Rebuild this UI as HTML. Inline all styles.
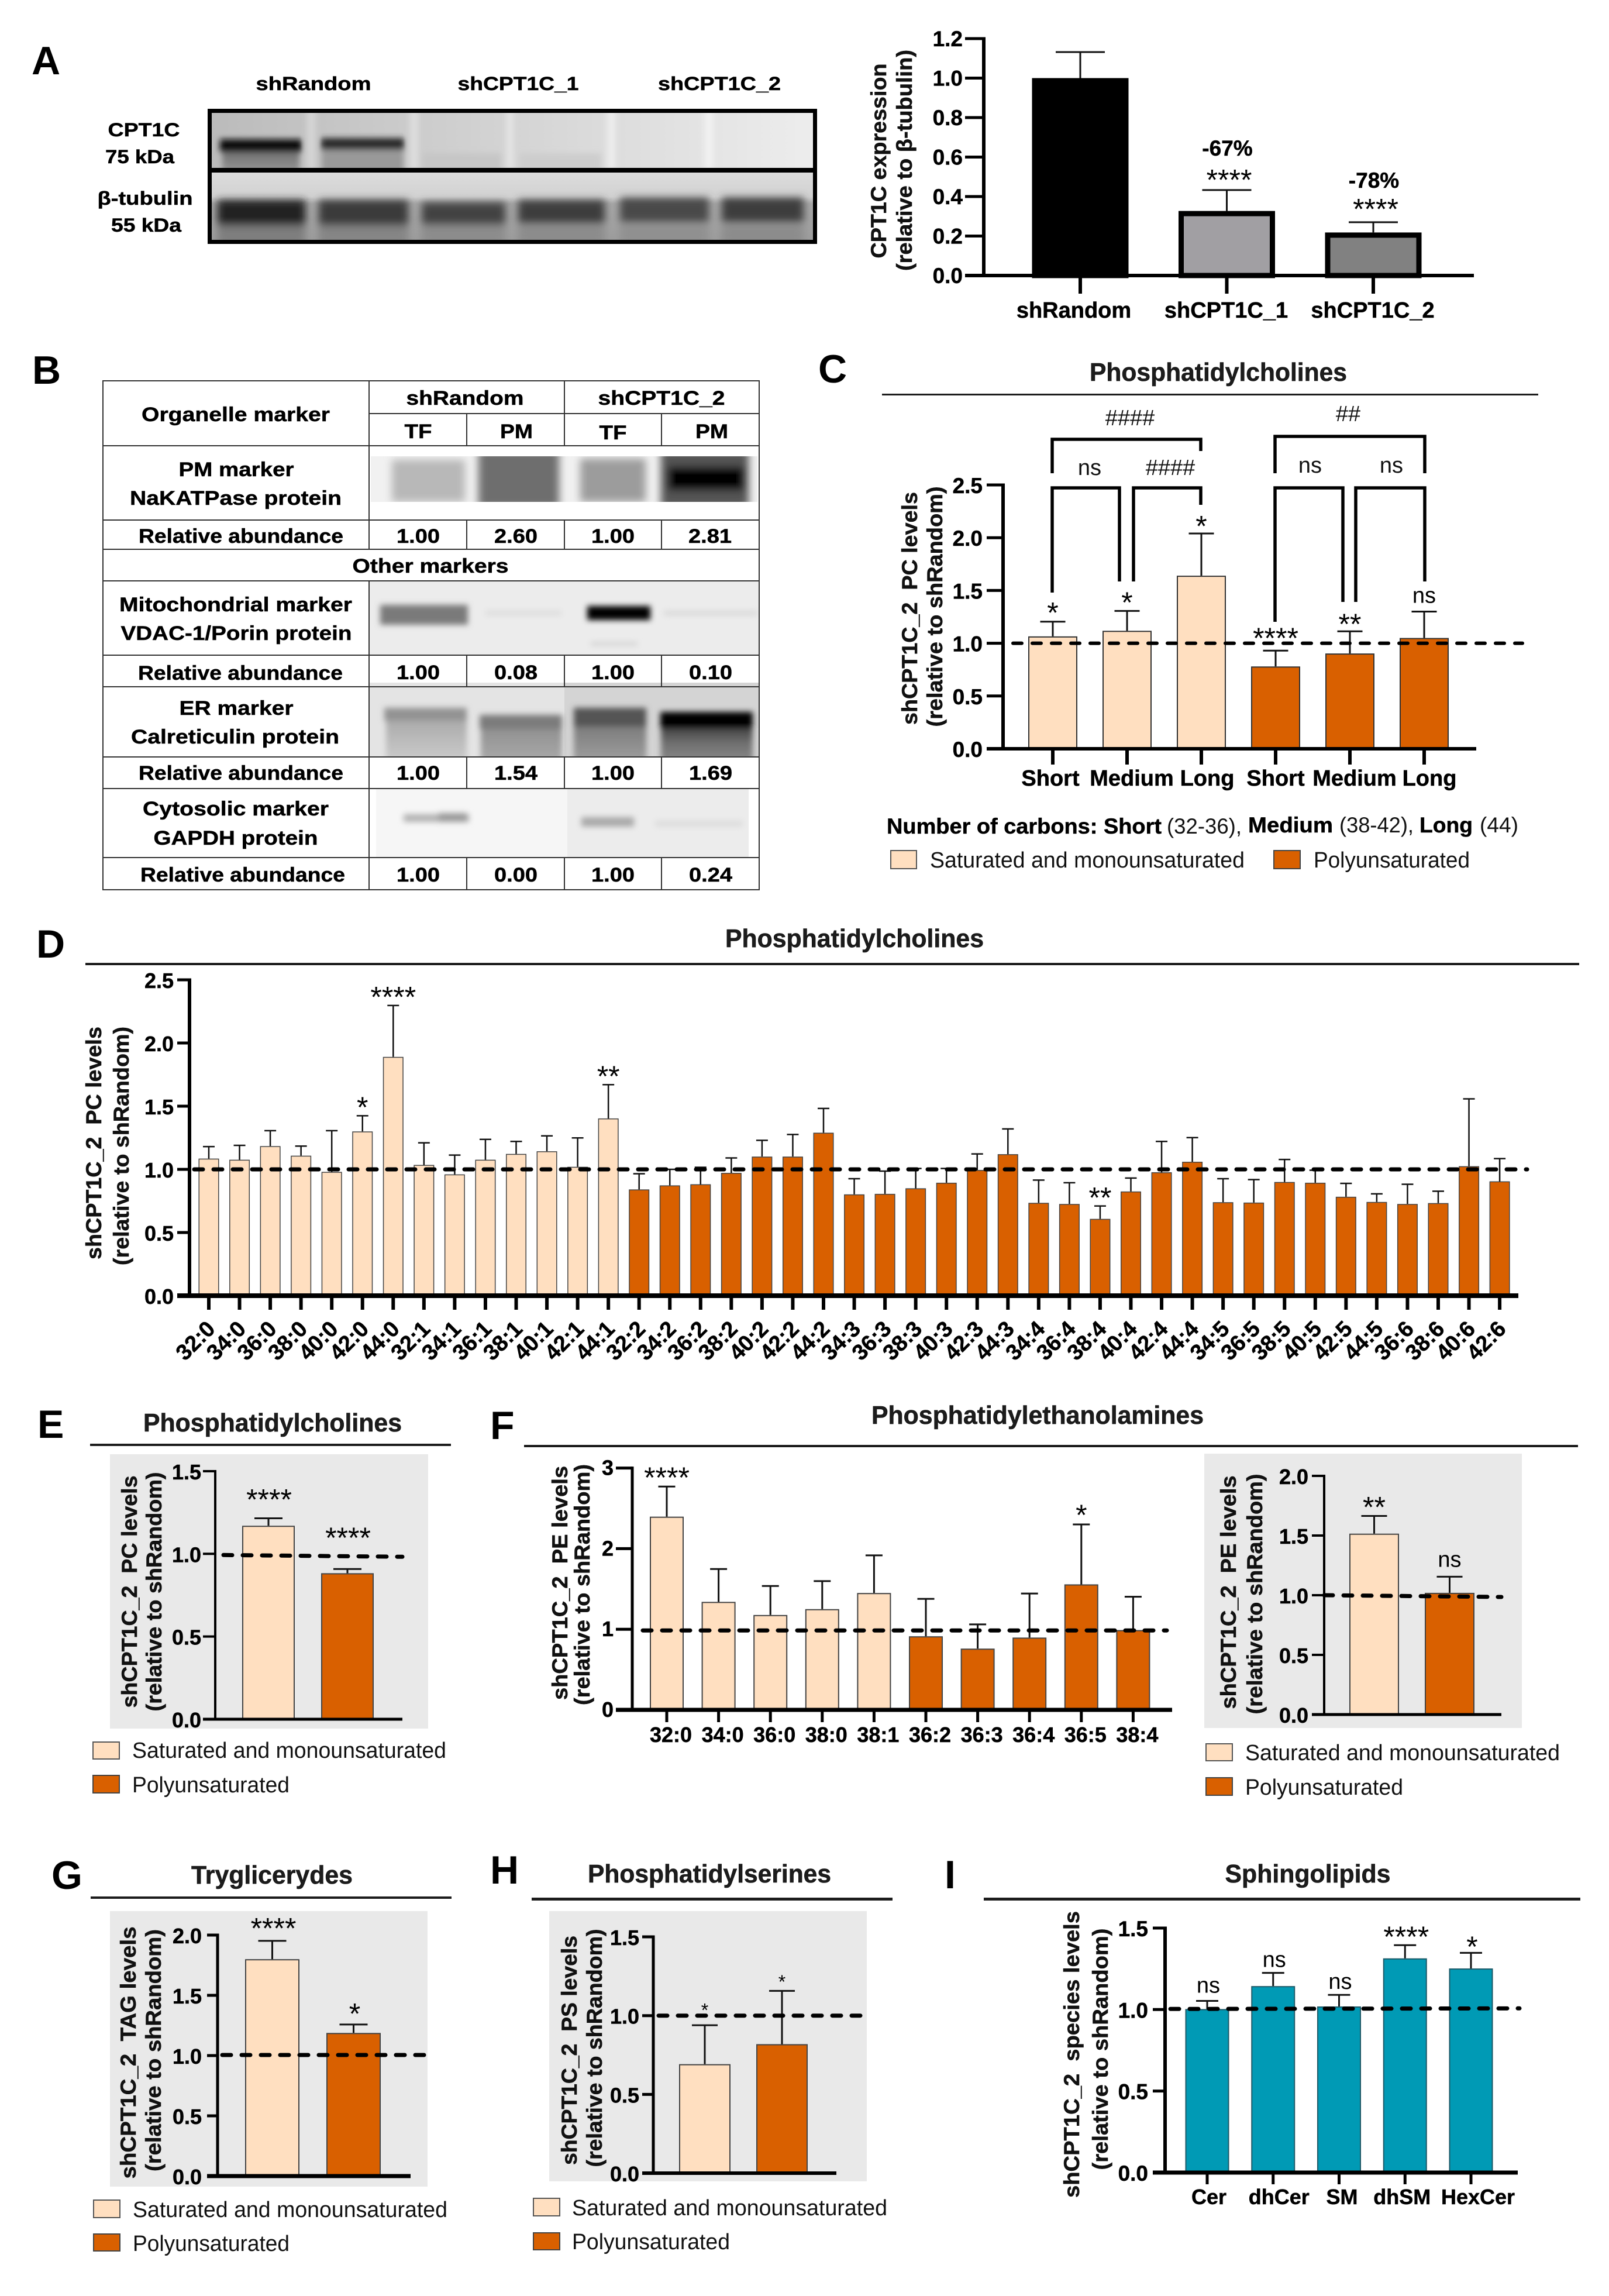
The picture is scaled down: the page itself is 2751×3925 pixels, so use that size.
<!DOCTYPE html>
<html lang="en">
<head>
<meta charset="utf-8">
<title>CPT1C lipidomics figure</title>
<style>
html,body{margin:0;padding:0;background:#fff}
svg{display:block;font-family:"Liberation Sans",sans-serif}
svg text[font-weight="700"],.b,.t,.Y,.T{stroke:#000;stroke-width:.5px}
.b{font-weight:700;fill:#000}
.r{font-weight:400;fill:#111}
.m{text-anchor:middle}
.L{font-weight:700;font-size:68px;fill:#000}
.T{font-weight:700;font-size:44px;fill:#1c1c1c;text-anchor:middle}
.Y{font-weight:700;font-size:37px;fill:#111;text-anchor:middle}
.t{font-weight:700;font-size:34px;fill:#000;text-anchor:middle}
.g{font-weight:400;font-size:38px;fill:#111}
.sw1{fill:#FFDFC0;stroke:#555;stroke-width:2}
.sw2{fill:#D96000;stroke:#444;stroke-width:2}
.rule{fill:#1c1c1c}
.bk{fill:none;stroke:#000;stroke-width:5.5}
.tl{stroke:#333;stroke-width:2}
</style>
</head>
<body>
<svg xmlns="http://www.w3.org/2000/svg" width="2751" height="3925" viewBox="0 0 2751 3925">
<defs>
<filter id="b3" x="-30%" y="-30%" width="160%" height="160%"><feGaussianBlur stdDeviation="3"/></filter>
<filter id="b5" x="-30%" y="-60%" width="160%" height="220%"><feGaussianBlur stdDeviation="5"/></filter>
<filter id="b7" x="-30%" y="-60%" width="160%" height="220%"><feGaussianBlur stdDeviation="7"/></filter>
<filter id="b10" x="-30%" y="-60%" width="160%" height="220%"><feGaussianBlur stdDeviation="10"/></filter>
<linearGradient id="aTop" x1="0" x2="1" y1="0" y2="0"><stop offset="0" stop-color="#bbb"/><stop offset=".4" stop-color="#cfcfcf"/><stop offset="1" stop-color="#ededed"/></linearGradient>
<linearGradient id="aBot" x1="0" x2="0" y1="0" y2="1"><stop offset="0" stop-color="#dcdcdc"/><stop offset=".35" stop-color="#d2d2d2"/><stop offset=".45" stop-color="#a8a8a8"/><stop offset="1" stop-color="#9c9c9c"/></linearGradient>
<linearGradient id="aSmear" x1="0" x2="0" y1="0" y2="1"><stop offset="0" stop-color="#666"/><stop offset="1" stop-color="#9c9c9c"/></linearGradient>
<linearGradient id="erS1" x1="0" x2="0" y1="0" y2="1"><stop offset="0" stop-color="#a8a8a8"/><stop offset="1" stop-color="#cdcdcd"/></linearGradient>
<linearGradient id="erS2" x1="0" x2="0" y1="0" y2="1"><stop offset="0" stop-color="#8c8c8c"/><stop offset="1" stop-color="#ababab"/></linearGradient>
<linearGradient id="erS3" x1="0" x2="0" y1="0" y2="1"><stop offset="0" stop-color="#777"/><stop offset="1" stop-color="#a0a0a0"/></linearGradient>
<linearGradient id="erS4" x1="0" x2="0" y1="0" y2="1"><stop offset="0" stop-color="#333"/><stop offset=".5" stop-color="#707070"/><stop offset="1" stop-color="#8a8a8a"/></linearGradient>
<clipPath id="clipATop"><rect x="358" y="190" width="1036" height="97"/></clipPath>
<clipPath id="clipABot"><rect x="358" y="295" width="1036" height="118"/></clipPath>
<clipPath id="clipB1"><rect x="634" y="780" width="661" height="78"/></clipPath>
<clipPath id="clipB2"><rect x="631" y="993" width="667" height="127"/></clipPath>
<clipPath id="clipB3"><rect x="631" y="1167" width="667" height="128"/></clipPath>
<clipPath id="clipB4"><rect x="631" y="1348" width="667" height="118"/></clipPath>
</defs>

<!-- PANEL A -->
<g>
<text class="L" x="54" y="127">A</text>
<g clip-path="url(#clipATop)">
<rect x="358" y="190" width="1036" height="97" fill="url(#aTop)"/>
<g filter="url(#b5)">
<rect x="380" y="250" width="132" height="50" fill="url(#aSmear)"/>
<rect x="550" y="250" width="140" height="50" fill="#999"/>
<rect x="376" y="238" width="140" height="22" fill="#111"/>
<rect x="549" y="236" width="142" height="20" fill="#2c2c2c"/>
<rect x="722" y="262" width="135" height="34" fill="#c6c6c6"/>
<rect x="888" y="262" width="140" height="34" fill="#cdcdcd"/>
<rect x="525" y="185" width="14" height="105" fill="#d6d6d6"/>
<rect x="701" y="185" width="14" height="105" fill="#dedede"/>
<rect x="866" y="185" width="12" height="105" fill="#e4e4e4"/>
<rect x="1038" y="185" width="14" height="105" fill="#ededed"/>
<rect x="1205" y="185" width="14" height="105" fill="#f2f2f2"/>
</g></g>
<g clip-path="url(#clipABot)">
<rect x="358" y="295" width="1036" height="118" fill="url(#aBot)"/>
<g filter="url(#b7)">
<rect x="372" y="342" width="150" height="46" fill="#222"/>
<rect x="545" y="342" width="153" height="44" fill="#3a3a3a"/>
<rect x="721" y="346" width="143" height="38" fill="#424242"/>
<rect x="886" y="342" width="148" height="40" fill="#3c3c3c"/>
<rect x="1060" y="338" width="152" height="42" fill="#484848"/>
<rect x="1234" y="338" width="140" height="42" fill="#3c3c3c"/>
<rect x="372" y="385" width="150" height="35" fill="#7e7e7e"/>
<rect x="545" y="385" width="153" height="35" fill="#858585"/>
<rect x="721" y="385" width="143" height="35" fill="#8c8c8c"/>
<rect x="886" y="385" width="148" height="35" fill="#8c8c8c"/>
<rect x="1060" y="385" width="152" height="35" fill="#909090"/>
<rect x="1234" y="385" width="140" height="35" fill="#8c8c8c"/>
</g></g>
<rect x="358.5" y="189.5" width="1035" height="224" fill="none" stroke="#000" stroke-width="7"/>
<rect x="355" y="287" width="1042" height="8" fill="#000"/>
<text class="t" style="font-size:32px" x="536" y="154" textLength="197">shRandom</text>
<text class="t" style="font-size:32px" x="886" y="154" textLength="207">shCPT1C_1</text>
<text class="t" style="font-size:32px" x="1230" y="154" textLength="210">shCPT1C_2</text>
<text class="t" style="font-size:32px" x="246" y="233" textLength="123">CPT1C</text>
<text class="t" style="font-size:32px" x="239" y="279" textLength="118">75 kDa</text>
<text class="t" style="font-size:32px" x="248" y="350" textLength="163">β-tubulin</text>
<text class="t" style="font-size:32px" x="250" y="396" textLength="120">55 kDa</text>
<text class="Y" transform="translate(1515,275) rotate(-90)" textLength="333">CPT1C expression</text>
<text class="Y" transform="translate(1559,274) rotate(-90)" textLength="378">(relative to β-tubulin)</text>
<g id="chart-a"></g>
</g>

<!-- PANEL B -->
<g>
<text class="L" x="55" y="656">B</text>
<g clip-path="url(#clipB1)">
<rect x="634" y="780" width="661" height="78" fill="#f1f1f1"/>
<g filter="url(#b7)">
<rect x="670" y="786" width="125" height="72" fill="#b8b8b8"/>
<rect x="818" y="768" width="138" height="100" fill="#6e6e6e"/>
<rect x="992" y="784" width="112" height="74" fill="#9c9c9c"/>
<rect x="1130" y="768" width="150" height="100" fill="#555"/>
<rect x="1142" y="798" width="130" height="40" fill="#000"/>
</g></g>
<g clip-path="url(#clipB2)">
<rect x="631" y="993" width="667" height="127" fill="#ececec"/>
<g filter="url(#b5)">
<rect x="650" y="1034" width="150" height="34" fill="#7a7a7a"/>
<rect x="1004" y="1036" width="108" height="24" fill="#000"/>
<rect x="830" y="1044" width="130" height="8" fill="#dcdcdc"/>
<rect x="1135" y="1044" width="160" height="8" fill="#d8d8d8"/>
<rect x="1010" y="1098" width="80" height="5" fill="#ccc"/>
</g></g>
<g clip-path="url(#clipB3)">
<rect x="631" y="1167" width="334" height="128" fill="#e4e4e4"/>
<rect x="965" y="1167" width="333" height="128" fill="#d4d4d4"/>
<g filter="url(#b5)">
<rect x="660" y="1225" width="138" height="80" fill="url(#erS1)"/>
<rect x="822" y="1235" width="139" height="70" fill="url(#erS2)"/>
<rect x="981" y="1232" width="124" height="73" fill="url(#erS3)"/>
<rect x="1130" y="1236" width="157" height="69" fill="url(#erS4)"/>
<rect x="657" y="1210" width="141" height="22" fill="#939393"/>
<rect x="820" y="1222" width="141" height="24" fill="#7c7c7c"/>
<rect x="981" y="1210" width="124" height="32" fill="#555"/>
<rect x="1129" y="1217" width="158" height="28" fill="#000"/>
</g></g>
<g clip-path="url(#clipB4)">
<rect x="643" y="1348" width="327" height="118" fill="#f6f6f6"/>
<rect x="970" y="1348" width="310" height="118" fill="#ececec"/>
<g filter="url(#b5)">
<rect x="690" y="1392" width="112" height="13" fill="#b0b0b0"/>
<rect x="750" y="1390" width="48" height="15" fill="#999"/>
<rect x="994" y="1397" width="90" height="16" fill="#a8a8a8"/>
<rect x="1120" y="1403" width="150" height="10" fill="#dcdcdc"/>
</g></g>
<g>
<rect class="tl" x="176" y="651" width="1122" height="870" fill="none"/>
<path class="tl" fill="none" d="M631 651V939M631 993V1521M965 651V762M798 707V762M1131 707V762M798 889V939M965 889V939M1131 889V939M798 1120V1174M965 1120V1174M1131 1120V1174M798 1294V1348M965 1294V1348M1131 1294V1348M798 1466V1521M965 1466V1521M1131 1466V1521M631 707H1298M176 762H1298M176 889H1298M176 939H1298M176 993H1298M176 1120H1298M176 1174H1298M176 1294H1298M176 1348H1298M176 1466H1298"/>
</g>
<g>
<text class="t" x="403" y="720" textLength="322">Organelle marker</text>
<text class="t" x="795" y="692" textLength="201">shRandom</text>
<text class="t" x="1131" y="692" textLength="217">shCPT1C_2</text>
<text class="t" x="715" y="749" textLength="47">TF</text>
<text class="t" x="883" y="749" textLength="56">PM</text>
<text class="t" x="1048" y="751" textLength="47">TF</text>
<text class="t" x="1217" y="749" textLength="56">PM</text>
<text class="t" x="404" y="814" textLength="197">PM marker</text>
<text class="t" x="403" y="863" textLength="362">NaKATPase protein</text>
<text class="t" x="412" y="928" textLength="350">Relative abundance</text>
<text class="t" x="715" y="928" textLength="74">1.00</text>
<text class="t" x="882" y="928" textLength="74">2.60</text>
<text class="t" x="1048" y="928" textLength="74">1.00</text>
<text class="t" x="1214" y="928" textLength="74">2.81</text>
<text class="t" x="736" y="979" textLength="267">Other markers</text>
<text class="t" x="403" y="1045" textLength="398">Mitochondrial marker</text>
<text class="t" x="404" y="1094" textLength="395">VDAC-1/Porin protein</text>
<text class="t" x="411" y="1162" textLength="350">Relative abundance</text>
<text class="t" x="715" y="1161" textLength="74">1.00</text>
<text class="t" x="882" y="1161" textLength="74">0.08</text>
<text class="t" x="1048" y="1161" textLength="74">1.00</text>
<text class="t" x="1215" y="1161" textLength="74">0.10</text>
<text class="t" x="404" y="1222" textLength="195">ER marker</text>
<text class="t" x="402" y="1271" textLength="356">Calreticulin protein</text>
<text class="t" x="412" y="1333" textLength="350">Relative abundance</text>
<text class="t" x="715" y="1333" textLength="74">1.00</text>
<text class="t" x="882" y="1333" textLength="74">1.54</text>
<text class="t" x="1048" y="1333" textLength="74">1.00</text>
<text class="t" x="1215" y="1333" textLength="74">1.69</text>
<text class="t" x="403" y="1394" textLength="318">Cytosolic marker</text>
<text class="t" x="403" y="1444" textLength="281">GAPDH protein</text>
<text class="t" x="415" y="1507" textLength="350">Relative abundance</text>
<text class="t" x="715" y="1507" textLength="74">1.00</text>
<text class="t" x="882" y="1507" textLength="74">0.00</text>
<text class="t" x="1048" y="1507" textLength="74">1.00</text>
<text class="t" x="1215" y="1507" textLength="74">0.24</text>
</g>
</g>

<!-- PANEL C -->
<g>
<text class="L" x="1399" y="654">C</text>
<text class="T" x="2083" y="651" textLength="440">Phosphatidylcholines</text>
<rect class="rule" x="1508" y="673" width="1122" height="3"/>
<text class="Y" transform="translate(1568,1040) rotate(-90)" textLength="398">shCPT1C_2&#160; PC levels</text>
<text class="Y" transform="translate(1611,1037) rotate(-90)" textLength="411">(relative to shRandom)</text>
<g id="chart-c"></g>
<g>
<path class="bk" d="M1799 809V751H2053V771"/>
<path class="bk" d="M1799 1013V834H1914V994"/>
<path class="bk" d="M1938 994V834H2053V863"/>
<path class="bk" d="M2180 809V746H2436V809"/>
<path class="bk" d="M2180 1063V834H2296V1029"/>
<path class="bk" d="M2318 1029V834H2436V994"/>
<text class="g m" x="1932" y="727">####</text>
<text class="g m" x="2001" y="812">####</text>
<text class="g m" x="1863" y="812">ns</text>
<text class="g m" x="2305" y="720">##</text>
<text class="g m" x="2240" y="808">ns</text>
<text class="g m" x="2379" y="808">ns</text>
</g>
<g font-size="37">
<text class="b" x="1516" y="1425" textLength="470">Number of carbons: Short</text>
<text class="r" x="1995" y="1425" textLength="128">(32-36),</text>
<text class="b" x="2134" y="1423" textLength="145">Medium</text>
<text class="r" x="2290" y="1423" textLength="127">(38-42),</text>
<text class="b" x="2427" y="1423" textLength="91">Long</text>
<text class="r" x="2530" y="1423" textLength="66">(44)</text>
</g>
<rect class="sw1" x="1523" y="1454" width="44" height="31"/>
<text class="g" x="1590" y="1483" textLength="538">Saturated and monounsaturated</text>
<rect class="sw2" x="2178" y="1454" width="45" height="31"/>
<text class="g" x="2246" y="1483" textLength="267">Polyunsaturated</text>
</g>

<!-- PANEL D -->
<g>
<text class="L" x="62" y="1637">D</text>
<text class="T" x="1461" y="1619" textLength="442">Phosphatidylcholines</text>
<rect class="rule" x="146" y="1646" width="2554" height="4"/>
<text class="Y" transform="translate(173,1954) rotate(-90)" textLength="398">shCPT1C_2&#160; PC levels</text>
<text class="Y" transform="translate(220,1959) rotate(-90)" textLength="408">(relative to shRandom)</text>
<g id="chart-d"></g>
</g>

<!-- PANEL E -->
<g>
<text class="L" x="64" y="2458">E</text>
<text class="T" x="466" y="2447" textLength="442">Phosphatidylcholines</text>
<rect class="rule" x="154" y="2468" width="617" height="4"/>
<rect x="188" y="2486" width="544" height="469" fill="#e9e9e9"/>
<text class="Y" transform="translate(234,2721) rotate(-90)" textLength="397">shCPT1C_2&#160; PC levels</text>
<text class="Y" transform="translate(276,2721) rotate(-90)" textLength="409">(relative to shRandom)</text>
<g id="chart-e"></g>
<rect class="sw1" x="159" y="2978" width="45" height="29"/>
<text class="g" x="226" y="3005" textLength="537">Saturated and monounsaturated</text>
<rect class="sw2" x="159" y="3035" width="45" height="30"/>
<text class="g" x="226" y="3064" textLength="269">Polyunsaturated</text>
</g>

<!-- PANEL F -->
<g>
<text class="L" x="838" y="2460">F</text>
<text class="T" x="1774" y="2434" textLength="568">Phosphatidylethanolamines</text>
<rect class="rule" x="896" y="2470" width="1802" height="4"/>
<text class="Y" transform="translate(970,2706) rotate(-90)" textLength="400">shCPT1C_2&#160; PE levels</text>
<text class="Y" transform="translate(1008,2709) rotate(-90)" textLength="412">(relative to shRandom)</text>
<g id="chart-f"></g>
<rect x="2059" y="2485" width="543" height="469" fill="#e9e9e9"/>
<text class="Y" transform="translate(2113,2722) rotate(-90)" textLength="399">shCPT1C_2&#160; PE levels</text>
<text class="Y" transform="translate(2158,2725) rotate(-90)" textLength="411">(relative to shRandom)</text>
<g id="chart-f2"></g>
<rect class="sw1" x="2062" y="2981" width="45" height="29"/>
<text class="g" x="2129" y="3009" textLength="538">Saturated and monounsaturated</text>
<rect class="sw2" x="2062" y="3039" width="45" height="30"/>
<text class="g" x="2129" y="3068" textLength="270">Polyunsaturated</text>
</g>

<!-- PANEL G -->
<g>
<text class="L" x="88" y="3229">G</text>
<text class="T" x="465" y="3220" textLength="276">Tryglicerydes</text>
<rect class="rule" x="155" y="3242" width="617" height="4"/>
<rect x="188" y="3267" width="543" height="471" fill="#e9e9e9"/>
<text class="Y" transform="translate(232,3509) rotate(-90)" textLength="431">shCPT1C_2&#160; TAG levels</text>
<text class="Y" transform="translate(275,3505) rotate(-90)" textLength="414">(relative to shRandom)</text>
<g id="chart-g"></g>
<rect class="sw1" x="160" y="3761" width="45" height="30"/>
<text class="g" x="227" y="3790" textLength="538">Saturated and monounsaturated</text>
<rect class="sw2" x="160" y="3819" width="45" height="29"/>
<text class="g" x="227" y="3848" textLength="268">Polyunsaturated</text>
</g>

<!-- PANEL H -->
<g>
<text class="L" x="838" y="3220">H</text>
<text class="T" x="1213" y="3218" textLength="416">Phosphatidylserines</text>
<rect class="rule" x="909" y="3244" width="617" height="5"/>
<rect x="939" y="3267" width="543" height="462" fill="#e9e9e9"/>
<text class="Y" transform="translate(986,3505) rotate(-90)" textLength="392">shCPT1C_2&#160; PS levels</text>
<text class="Y" transform="translate(1029,3501) rotate(-90)" textLength="407">(relative to shRandom)</text>
<g id="chart-h"></g>
<rect class="sw1" x="912" y="3758" width="45" height="30"/>
<text class="g" x="978" y="3787" textLength="539">Saturated and monounsaturated</text>
<rect class="sw2" x="912" y="3817" width="45" height="29"/>
<text class="g" x="978" y="3845" textLength="270">Polyunsaturated</text>
</g>

<!-- PANEL I -->
<g>
<text class="L" x="1615" y="3228">I</text>
<text class="T" x="2236" y="3218" textLength="283">Sphingolipids</text>
<rect class="rule" x="1682" y="3244" width="1020" height="5"/>
<text class="Y" transform="translate(1845,3512) rotate(-90)" textLength="490">shCPT1C_2&#160; species levels</text>
<text class="Y" transform="translate(1894,3503) rotate(-90)" textLength="413">(relative to shRandom)</text>
<g id="chart-i"></g>
</g>
</svg>

<script>
/* ---------- chart data ---------- */
const referenceLevel = 1;

const aCategories = ['shRandom', 'shCPT1C_1', 'shCPT1C_2'];
const aValues = [1.0, 0.327, 0.218];
const aErrorTops = [1.132, 0.433, 0.27];
const aGroups = ['control', 'knockdown1', 'knockdown2'];
const aSignificance = ['', '****', '****'];
const aPercentLabels = ['', '-67%', '-78%'];
const aTicks = ['0.0', '0.2', '0.4', '0.6', '0.8', '1.0', '1.2'];

const cCategories = ['Short', 'Medium', 'Long', 'Short', 'Medium', 'Long'];
const cValues = [1.065, 1.118, 1.64, 0.78, 0.903, 1.05];
const cErrorTops = [1.204, 1.306, 2.04, 0.93, 1.113, 1.30];
const cGroups = ['sat', 'sat', 'sat', 'poly', 'poly', 'poly'];
const cSignificance = ['*', '*', '*', '****', '**', 'ns'];
const cTicks = ['0.0', '0.5', '1.0', '1.5', '2.0', '2.5'];

const dCategories = ['32:0','34:0','36:0','38:0','40:0','42:0','44:0','32:1','34:1','36:1','38:1','40:1','42:1','44:1','32:2','34:2','36:2','38:2','40:2','42:2','44:2','34:3','36:3','38:3','40:3','42:3','44:3','34:4','36:4','38:4','40:4','42:4','44:4','34:5','36:5','38:5','40:5','42:5','44:5','36:6','38:6','40:6','42:6'];
const dValues = [1.085,1.076,1.184,1.108,0.98,1.30,1.89,1.035,0.96,1.076,1.122,1.143,1.02,1.403,0.841,0.873,0.882,0.972,1.101,1.101,1.29,0.802,0.806,0.85,0.894,0.995,1.12,0.735,0.726,0.608,0.825,0.977,1.06,0.74,0.737,0.90,0.894,0.783,0.742,0.726,0.733,1.025,0.905];
const dErrorTops = [1.18,1.19,1.306,1.184,1.306,1.424,2.297,1.21,1.113,1.237,1.221,1.265,1.249,1.67,0.965,1.0,1.016,1.09,1.23,1.276,1.482,0.926,0.986,1.007,1.007,1.122,1.32,0.915,0.894,0.71,0.931,1.221,1.251,0.926,0.919,1.078,0.993,0.889,0.806,0.882,0.827,1.558,1.085];
const dGroups = ['sat','sat','sat','sat','sat','sat','sat','sat','sat','sat','sat','sat','sat','sat','poly','poly','poly','poly','poly','poly','poly','poly','poly','poly','poly','poly','poly','poly','poly','poly','poly','poly','poly','poly','poly','poly','poly','poly','poly','poly','poly','poly','poly'];
const dSignificance = ['','','','','','*','****','','','','','','','**','','','','','','','','','','','','','','','','**','','','','','','','','','','','','',''];
const dTicks = ['0.0', '0.5', '1.0', '1.5', '2.0', '2.5'];

const summaryCategories = ['Saturated and monounsaturated', 'Polyunsaturated'];
const summaryGroups = ['sat', 'poly'];

const eValues = [1.17, 0.883];
const eErrorTops = [1.215, 0.908];
const eSignificance = ['****', '****'];
const eTicks = ['0.0', '0.5', '1.0', '1.5'];

const fCategories = ['32:0','34:0','36:0','38:0','38:1','36:2','36:3','36:4','36:5','38:4'];
const fValues = [2.397, 1.34, 1.177, 1.25, 1.45, 0.913, 0.76, 0.897, 1.557, 0.99];
const fErrorTops = [2.77, 1.747, 1.537, 1.597, 1.917, 1.377, 1.06, 1.443, 2.30, 1.403];
const fGroups = ['sat','sat','sat','sat','sat','poly','poly','poly','poly','poly'];
const fSignificance = ['****','','','','','','','','*',''];
const fTicks = ['0', '1', '2', '3'];

const f2Values = [1.516, 1.02];
const f2ErrorTops = [1.664, 1.155];
const f2Significance = ['**', 'ns'];
const f2Ticks = ['0.0', '0.5', '1.0', '1.5', '2.0'];

const gValues = [1.80, 1.188];
const gErrorTops = [1.952, 1.258];
const gSignificance = ['****', '*'];
const gTicks = ['0.0', '0.5', '1.0', '1.5', '2.0'];

const hValues = [0.692, 0.819];
const hErrorTops = [0.939, 1.157];
const hSignificance = ['*', '*'];
const hTicks = ['0.0', '0.5', '1.0', '1.5'];

const iCategories = ['Cer', 'dhCer', 'SM', 'dhSM', 'HexCer'];
const iValues = [1.003, 1.144, 1.019, 1.314, 1.252];
const iErrorTops = [1.053, 1.225, 1.09, 1.395, 1.348];
const iGroups = ['sphingo', 'sphingo', 'sphingo', 'sphingo', 'sphingo'];
const iSignificance = ['ns', 'ns', 'ns', '****', '*'];
const iTicks = ['0.0', '0.5', '1.0', '1.5'];

/* ---------- drawing ---------- */
const SVG_NS = 'http://www.w3.org/2000/svg';
const FILLS = {sat:'#FFDFC0', poly:'#D96000', sphingo:'#009AB5', control:'#000', knockdown1:'#A19FA3', knockdown2:'#818181'};

function add(parent, tag, attrs, text) {
  const el = document.createElementNS(SVG_NS, tag);
  for (const k in attrs) el.setAttribute(k, attrs[k]);
  if (text !== undefined) el.textContent = text;
  parent.appendChild(el);
  return el;
}
function slug(s) { return String(s).toLowerCase().replace(/[^a-z0-9]+/g, '-'); }

function drawChart(c) {
  const root = document.getElementById(c.id);
  const yS = v => c.y0 - v * c.unit;
  const xS = i => c.first + i * c.step;
  const maxTick = Math.max.apply(null, c.ticks.map(parseFloat));

  c.values.forEach((v, i) => {
    const sw = c.barStroke;
    const cx = xS(i);
    const err = add(root, 'path', {d: 'M' + cx + ' ' + yS(v) + 'V' + yS(c.errors[i]) + 'M' + (cx - c.capW / 2) + ' ' + yS(c.errors[i]) + 'H' + (cx + c.capW / 2), fill: 'none', stroke: '#111', 'stroke-width': c.errW});
    
    
    const bar = add(root, 'rect', {x: cx - c.barW / 2 + sw / 2, y: yS(v) + sw / 2, width: c.barW - sw, height: Math.max(0, yS(0) - yS(v) - sw / 2), fill: FILLS[c.groups[i]], stroke: c.barColor, 'stroke-width': sw});
    
    
    const sig = c.sig[i];
    if (sig) {
      const gap = Array.isArray(c.sigGap) ? c.sigGap[i] : c.sigGap;
      const cy = yS(c.errors[i]) - gap;
      const isNs = sig === 'ns';
      const size = isNs ? 38 : c.sigSize;
      const label = add(root, 'text', {x: cx + (c.sigDx || 0), y: cy + (isNs ? 0.26 : 0.575) * size, 'text-anchor': 'middle', 'font-size': size, fill: '#000'}, sig);
      
      
    }
  });

  if (c.dash) {
    const ref = add(root, 'line', {x1: c.dash[0], x2: c.dash[1], y1: yS(referenceLevel) + (c.dash[2] || 0), y2: yS(referenceLevel) + (c.dash[3] || 0), stroke: '#000', 'stroke-width': c.dashW || 7, 'stroke-linecap': 'round', 'stroke-dasharray': '15 18'});
    
    
  }

  const yAxis = add(root, 'line', {x1: c.axisX, x2: c.axisX, y1: yS(maxTick) - c.tickW / 2, y2: c.y0 + c.xAxisW / 2, stroke: '#000', 'stroke-width': c.axisW});
  
  
  const xAxis = add(root, 'line', {x1: c.xStart, x2: c.xEnd, y1: c.y0, y2: c.y0, stroke: '#000', 'stroke-width': c.xAxisW});
  
  

  c.ticks.forEach(t => {
    const v = parseFloat(t);
    const mark = add(root, 'line', {x1: c.xStart, x2: c.axisX, y1: yS(v), y2: yS(v), stroke: '#000', 'stroke-width': c.tickW});
    
    
    const lbl = add(root, 'text', {x: c.tickRight, y: yS(v) + c.tickDy, 'text-anchor': 'end', 'font-size': c.tickSize, 'font-weight': 700, fill: '#000'}, t);
    
    
  });

  if (c.labelY) {
    c.categories.forEach((name, i) => {
      const tick = add(root, 'line', {x1: xS(i), x2: xS(i), y1: c.y0, y2: c.y0 + c.tickLen, stroke: '#000', 'stroke-width': c.xTickW});
      
      
      const dx = Array.isArray(c.labelDx) ? c.labelDx[i] : (c.labelDx || 0);
      const attrs = {x: xS(i) + dx, y: c.labelY, 'text-anchor': c.labelAngle ? 'end' : 'middle', 'font-size': c.labelSize, 'font-weight': 700, fill: '#000'};
      if (c.labelAngle) attrs.transform = 'rotate(' + c.labelAngle + ' ' + attrs.x + ' ' + attrs.y + ')';
      const lbl = add(root, 'text', attrs, name);
      
      
    });
  }
  return {xS: xS, yS: yS, root: root};
}

const chartA = drawChart({id:'chart-a', categories:aCategories, values:aValues, errors:aErrorTops, groups:aGroups, sig:aSignificance, ticks:aTicks,
  axisX:1682, y0:471, unit:337.5, xStart:1650, xEnd:2520, first:1847, step:250.5, barW:165, capW:84, barStroke:9, barColor:'#000', errW:3,
  axisW:6, xAxisW:6, tickW:5, xTickW:6, tickLen:31, tickRight:1646, tickDy:13, tickSize:37, labelY:543, labelSize:38, labelDx:[-11,-1,-1], sigGap:[0,29,34], sigSize:50, sigDx:4});
aPercentLabels.forEach((p, i) => {
  if (!p) return;
  const lbl = add(chartA.root, 'text', {x: chartA.xS(i) + 1, y: chartA.yS(aErrorTops[i]) - 59, 'text-anchor': 'middle', 'font-size': 37, 'font-weight': 700, fill: '#000'}, p);
  
  
});

drawChart({id:'chart-c', categories:cCategories, values:cValues, errors:cErrorTops, groups:cGroups, sig:cSignificance, ticks:cTicks,
  axisX:1715, y0:1280, unit:180.4, xStart:1687, xEnd:2524, first:1800, step:127, barW:84, capW:43, barStroke:2, barColor:'#333', errW:3,
  axisW:6, xAxisW:6, tickW:5, xTickW:6, tickLen:27, tickRight:1680, tickDy:14, tickSize:37, labelY:1343, labelSize:38, labelDx:[-4,8,10,0,8,9],
  sigGap:[27,26,24,33,24,25], sigSize:50, dash:[1732,2603], dashW:6});

drawChart({id:'chart-d', categories:dCategories, values:dValues, errors:dErrorTops, groups:dGroups, sig:dSignificance, ticks:dTicks,
  axisX:324, y0:2215, unit:216, xStart:303, xEnd:2596, first:357, step:52.55, barW:35, capW:20, barStroke:1.5, barColor:'#444', errW:2.5,
  axisW:6, xAxisW:8, tickW:5, xTickW:6, tickLen:24, tickRight:297, tickDy:14, tickSize:36, labelY:2274, labelSize:38, labelDx:13, labelAngle:-45,
  sigGap:26, sigSize:50, dash:[332,2611], dashW:7});

drawChart({id:'chart-e', categories:summaryCategories, values:eValues, errors:eErrorTops, groups:summaryGroups, sig:eSignificance, ticks:eTicks,
  axisX:368, y0:2939, unit:282.7, xStart:347, xEnd:688, first:459, step:135, barW:90, capW:48, barStroke:2, barColor:'#444', errW:3,
  axisW:4, xAxisW:5, tickW:4, tickRight:344, tickDy:14, tickSize:36, sigGap:[44,65], sigSize:50, sigDx:1, dash:[382,688,2,5]});

drawChart({id:'chart-f', categories:fCategories, values:fValues, errors:fErrorTops, groups:fGroups, sig:fSignificance, ticks:fTicks,
  axisX:1081, y0:2923, unit:137.8, xStart:1053, xEnd:2004, first:1140, step:88.6, barW:58, capW:29, barStroke:2, barColor:'#444', errW:3,
  axisW:5, xAxisW:7, tickW:5, xTickW:5, tickLen:21, tickRight:1049, tickDy:12, tickSize:36, labelY:2978, labelSize:36, labelDx:7,
  sigGap:[27,0,0,0,0,0,0,0,28,0], sigSize:50, dash:[1099,1995,2,2]});

drawChart({id:'chart-f2', categories:summaryCategories, values:f2Values, errors:f2ErrorTops, groups:summaryGroups, sig:f2Significance, ticks:f2Ticks,
  axisX:2264, y0:2931, unit:204, xStart:2243, xEnd:2567, first:2349.5, step:129, barW:85, capW:44, barStroke:2, barColor:'#444', errW:3,
  axisW:4, xAxisW:5, tickW:4, tickRight:2237, tickDy:14, tickSize:36, sigGap:27, sigSize:50, dash:[2264,2567,0,3]});

drawChart({id:'chart-g', categories:summaryCategories, values:gValues, errors:gErrorTops, groups:summaryGroups, sig:gSignificance, ticks:gTicks,
  axisX:372, y0:3720, unit:206, xStart:354, xEnd:702, first:465.5, step:139, barW:93, capW:48, barStroke:2, barColor:'#444', errW:3,
  axisW:5, xAxisW:7, tickW:5, tickRight:345, tickDy:14, tickSize:36, sigGap:[33,30], sigSize:50, sigDx:2, dash:[380,734,-1,-1]});

drawChart({id:'chart-h', categories:summaryCategories, values:hValues, errors:hErrorTops, groups:summaryGroups, sig:hSignificance, ticks:hTicks,
  axisX:1117, y0:3715, unit:269.3, xStart:1098, xEnd:1430, first:1205, step:132, barW:88, capW:44, barStroke:2, barColor:'#444', errW:3,
  axisW:5, xAxisW:6, tickW:5, tickRight:1093, tickDy:14, tickSize:36, sigGap:[33,23], sigSize:32, dash:[1126,1482]});

drawChart({id:'chart-i', categories:iCategories, values:iValues, errors:iErrorTops, groups:iGroups, sig:iSignificance, ticks:iTicks,
  axisX:1992, y0:3714, unit:278.7, xStart:1971, xEnd:2595, first:2064, step:112.75, barW:75, capW:38, barStroke:2, barColor:'#1d5a68', errW:3,
  axisW:6, xAxisW:7, tickW:5, xTickW:5, tickLen:20, tickRight:1963, tickDy:14, tickSize:37, labelY:3768, labelSize:36, labelDx:[3,10,5,-5,12],
  sigGap:[24,20,20,26,22], sigSize:50, sigDx:2, dash:[2001,2598,-1,-2]});

/* stretch fitted text to the widths requested by textLength */
document.querySelectorAll('text').forEach(t => {
  if (t.hasAttribute('textLength')) t.setAttribute('lengthAdjust', 'spacingAndGlyphs');
});
</script>
</body>
</html>
